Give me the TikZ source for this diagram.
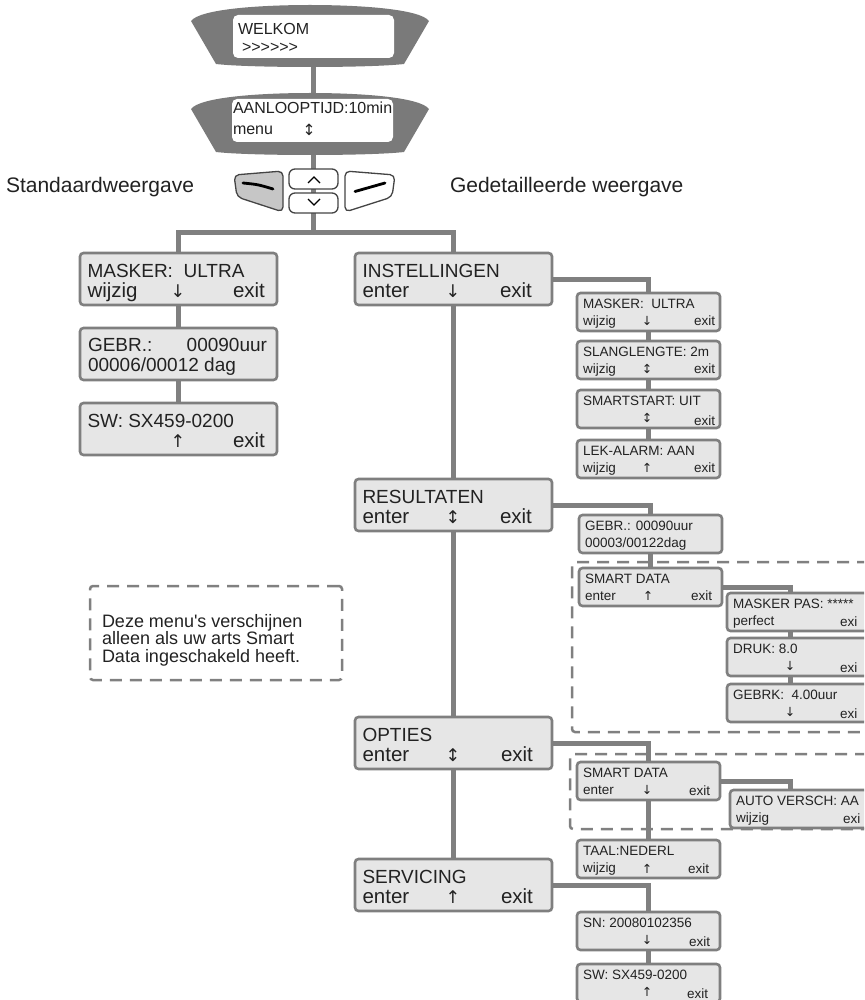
\documentclass[tikz,border=0pt]{standalone}
\usepackage{fontspec}
\setmainfont{Liberation Sans}[Ligatures=TeXOff]
\newfontfamily\arrowfont{DejaVu Sans}
\usetikzlibrary{calc}
\pgfdeclarelayer{bg}
\pgfsetlayers{bg,main}
\definecolor{connc}{HTML}{808080}
\definecolor{boxfill}{HTML}{E6E6E6}
\definecolor{boxline}{HTML}{7F7F7F}
\definecolor{dispfill}{HTML}{7A7A7A}
\definecolor{keyline}{HTML}{444444}
\definecolor{keygray}{HTML}{C6C6C6}
\definecolor{txt}{HTML}{222222}
\tikzset{
  menubox/.style={draw=boxline, fill=boxfill, line width=2.6pt, rounded corners=3.5pt,
    inner sep=0pt, outer sep=0pt, anchor=north west},
  conn/.style={draw=connc, line width=5pt},
  bigA/.style={font=\fontsize{19}{19}\selectfont, text=txt, inner sep=0pt, outer sep=0pt},
  bigB/.style={font=\fontsize{20.5}{20}\selectfont, text=txt, inner sep=0pt, outer sep=0pt},
  bigArr/.style={font=\arrowfont\fontsize{17.5}{17.5}\selectfont, text=txt, inner sep=0pt, outer sep=0pt},
  smalltxt/.style={font=\fontsize{13.5}{14}\selectfont, text=txt, inner sep=0pt, outer sep=0pt},
  smallArr/.style={font=\arrowfont\fontsize{12.5}{12.5}\selectfont, text=txt, inner sep=0pt, outer sep=0pt},
  disptxt/.style={font=\fontsize{16}{16}\selectfont, text=txt, inner sep=0pt, outer sep=0pt, anchor=base west},
  dispArr/.style={font=\arrowfont\fontsize{15.5}{15.5}\selectfont, text=txt, inner sep=0pt, outer sep=0pt, anchor=base},
  sidetxt/.style={font=\fontsize{21}{21}\selectfont, text=txt, inner sep=0pt, outer sep=0pt, anchor=base west},
  notetxt/.style={font=\fontsize{18}{18}\selectfont, text=txt, inner sep=0pt, outer sep=0pt, anchor=base west},
  screen/.style={fill=white, rounded corners=5pt, inner sep=0pt, outer sep=0pt, anchor=north west,
    minimum width=161pt, minimum height=43pt},
  dashbox/.style={draw=connc, line width=2.5pt, dash pattern=on 12pt off 8pt, rounded corners=3pt,
    inner sep=0pt, outer sep=0pt, anchor=north west},
  keyshape/.style={draw=keyline, line width=1.3pt, rounded corners=5pt},
  keymark/.style={draw=black, line width=1.3pt},
  keydash/.style={draw=black, line width=2.8pt, line cap=round},
}
\newcommand\bigmenu[8]{%
  \node[menubox, minimum width=#4pt, minimum height=52pt] (#1) at (#2,#3) {};
  \node[bigA, anchor=base west] (#1-a) at ($(#1.north west)+(7.5,24)$) {#5};
  \node[bigB, anchor=base west] (#1-b) at ($(#1.north west)+(7.5,44.5)$) {#6};
  \node[bigArr, anchor=base] (#1-c) at ($(#1.north west)+(98,44.5)$) {#7};
  \node[bigB, anchor=base west] (#1-d) at ($(#1.north west)+(#8,44.5)$) {exit};
}
\newcommand\smallmenu[9]{%
  \node[menubox, minimum width=143pt, minimum height=38pt] (#1) at (#2,#3) {};
  \node[smalltxt, anchor=base west] (#1-a) at ($(#1.north west)+(6,15.5)$) {#4};
  \node[smalltxt, anchor=base west] (#1-b) at ($(#1.north west)+(6,32.5)$) {#5};
  \node[smallArr, anchor=base] (#1-c) at ($(#1.north west)+(#7)$) {#6};
  \node[smalltxt, anchor=base west] (#1-d) at ($(#1.north west)+(#9)$) {#8};
}
\begin{document}
\begin{tikzpicture}[x=1pt,y=-1pt]
\useasboundingbox (0,0) rectangle (864,1000);
\clip (0,0) rectangle (864,1000);
% ---------- reference points for the top stem
\coordinate (d1) at (313,40);
\coordinate (d2) at (313,125);
\coordinate (bar) at (313,233);
% ---------- displays
\fill[dispfill] (191,21) .. controls (200,9) and (260,5) .. (310,5) .. controls (360,5) and (420,9) .. (429,21)
  -- (404,64) .. controls (370,68) and (250,68) .. (216,64) -- cycle;
\node[screen] (scr1) at (233,15) {};
\node[disptxt] (welkom) at (238,35) {WELKOM};
\node[disptxt] (pijlen) at (242,53) {>{}>{}>{}>{}>{}>};
\begin{scope}[shift={(0,88)}]
\fill[dispfill] (191,21) .. controls (200,9) and (260,5) .. (310,5) .. controls (360,5) and (420,9) .. (429,21)
  -- (404,64) .. controls (370,68) and (250,68) .. (216,64) -- cycle;
\end{scope}
\node[screen] (scr2) at (232,99) {};
\node[disptxt] (aanloop) at (233,114) {AANLOOPTIJD:10min};
\node[disptxt] (menu) at (233,135) {menu};
\node[dispArr] (menuar) at (309,136) {↕};
% ---------- keypad
\path[keyshape, fill=keygray] (234,175) -- (283,171) -- (283,212) -- (237,197) -- cycle;
\path[keyshape, fill=white] (395,175) -- (345,171) -- (345,212) -- (392,197) -- cycle;
\path[keyshape, fill=white, rounded corners=6pt] (289,169) rectangle (338,189);
\path[keyshape, fill=white, rounded corners=6pt] (289,193) rectangle (338,213);
\draw[keymark] (308,183) -- (314,177) -- (320,183);
\draw[keymark] (308,199) -- (314,205) -- (320,199);
\draw[keydash] (243,183) .. controls (258,184.5) .. (273,189);
\draw[keydash] (355,191.5) .. controls (370,188) .. (385,183);
\node[sidetxt] (std) at (6,193) {Standaardweergave};
\node[sidetxt] (ged) at (450,193) {Gedetailleerde weergave};
% ---------- left column
\bigmenu{mask}{80}{253}{197}{MASKER:\ \ ULTRA}{wijzig}{↓}{153}
\node[menubox, minimum width=197pt, minimum height=52pt] (gebr) at (80,328) {};
\node[bigA, anchor=base west] (gebr-a) at ($(gebr.north west)+(8,23.5)$) {GEBR.:};
\node[bigA, anchor=base east] (gebr-b) at ($(gebr.north east)+(-10,23.5)$) {00090uur};
\node[bigA, anchor=base west] (gebr-c) at ($(gebr.north west)+(8,43.5)$) {00006/00012 dag};
\bigmenu{sw}{80}{403}{197}{SW: SX459-0200}{}{↑}{153}
% ---------- right column
\bigmenu{inst}{355}{253}{197}{INSTELLINGEN}{enter}{↓}{145}
\bigmenu{res}{355}{479}{197}{RESULTATEN}{enter}{↕}{145}
\bigmenu{opt}{355}{717}{197}{OPTIES}{enter}{↕}{146}
\bigmenu{serv}{355}{859}{197}{SERVICING}{enter}{↑}{146}
% ---------- sub menus
\smallmenu{smask}{577}{293}{MASKER:\ \ ULTRA}{wijzig}{↓}{70,32.5}{exit}{117,32.5}
\smallmenu{sslang}{577}{341}{SLANGLENGTE: 2m}{wijzig}{↕}{70,32.5}{exit}{117,32.5}
\smallmenu{ssmart}{577}{390}{SMARTSTART: UIT}{}{↕}{70,32}{exit}{117,35.5}
\smallmenu{slek}{577}{440}{LEK-ALARM: AAN}{wijzig}{↑}{70,32.5}{exit}{117,32.5}
\smallmenu{sgebr}{579}{515}{GEBR.: 00090uur}{00003/00122dag}{}{70,32.5}{}{117,32.5}
\smallmenu{sd1}{579}{568}{SMART DATA}{enter}{↑}{69,32.5}{exit}{112,32.5}
\smallmenu{mpas}{727}{593}{MASKER PAS: *****}{perfect}{}{63,32.5}{exi}{113,33}
\smallmenu{druk}{727}{638}{DRUK: 8.0}{}{↓}{63,32}{exi}{113,34.5}
\smallmenu{gebrk}{727}{684}{GEBRK:\ \ 4.00uur}{}{↓}{63,32}{exi}{113,34.5}
\smallmenu{sd2}{577}{762}{SMART DATA}{enter}{↓}{70,32.5}{exit}{112,33}
\smallmenu{auto}{730}{790}{AUTO VERSCH: AA}{wijzig}{}{60,32}{exi}{113,33}
\smallmenu{taal}{577}{840}{TAAL:NEDERL}{wijzig}{↑}{70,33}{exit}{111,33}
\smallmenu{sn}{577}{912}{SN: 20080102356}{}{↓}{70,32}{exit}{112,34.5}
\smallmenu{ssw}{577}{964}{SW: SX459-0200}{}{↑}{70,32}{exit}{110,34}
% ---------- dashed groups and note
\node[dashbox, minimum width=320pt, minimum height=170pt] (grp1) at (572,562) {};
\node[dashbox, minimum width=320pt, minimum height=75pt] (grp2) at (570,754) {};
\node[dashbox, minimum width=252pt, minimum height=94pt] (note) at (90,586) {};
\node[notetxt] (note1) at (102,627) {Deze menu's verschijnen};
\node[notetxt] (note2) at (102,644.5) {alleen als uw arts Smart};
\node[notetxt] (note3) at (102,662) {Data ingeschakeld heeft.};
% ---------- connectors
\begin{pgfonlayer}{bg}
\draw[conn] (d1) -- (d2);
\draw[conn] (d2) -- (bar);
\draw[conn] (mask.north) |- (bar) -| (inst.north);
\draw[conn] (mask.south) -- (gebr.north);
\draw[conn] (gebr.south) -- (sw.north);
\draw[conn] (inst.south) -- (res.north);
\draw[conn] (res.south) -- (opt.north);
\draw[conn] (opt.south) -- (serv.north);
\draw[conn] (inst.east) -| (smask.north);
\draw[conn] (smask.south) -- (sslang.north);
\draw[conn] (sslang.south) -- (ssmart.north);
\draw[conn] (ssmart.south) -- (slek.north);
\draw[conn] (res.east) -| (sgebr.north);
\draw[conn] (sgebr.south) -- (sd1.north);
\draw[conn] (sd1.east) -| ([xshift=63pt]mpas.north west);
\draw[conn] ([xshift=63pt]mpas.south west) -- ([xshift=63pt]druk.north west);
\draw[conn] ([xshift=63pt]druk.south west) -- ([xshift=63pt]gebrk.north west);
\draw[conn] (opt.east) -| (sd2.north);
\draw[conn] (sd2.east) -| ([xshift=60pt]auto.north west);
\draw[conn] (sd2.south) -- (taal.north);
\draw[conn] (serv.east) -| (sn.north);
\draw[conn] (sn.south) -- (ssw.north);
\end{pgfonlayer}
\end{tikzpicture}
\end{document}
